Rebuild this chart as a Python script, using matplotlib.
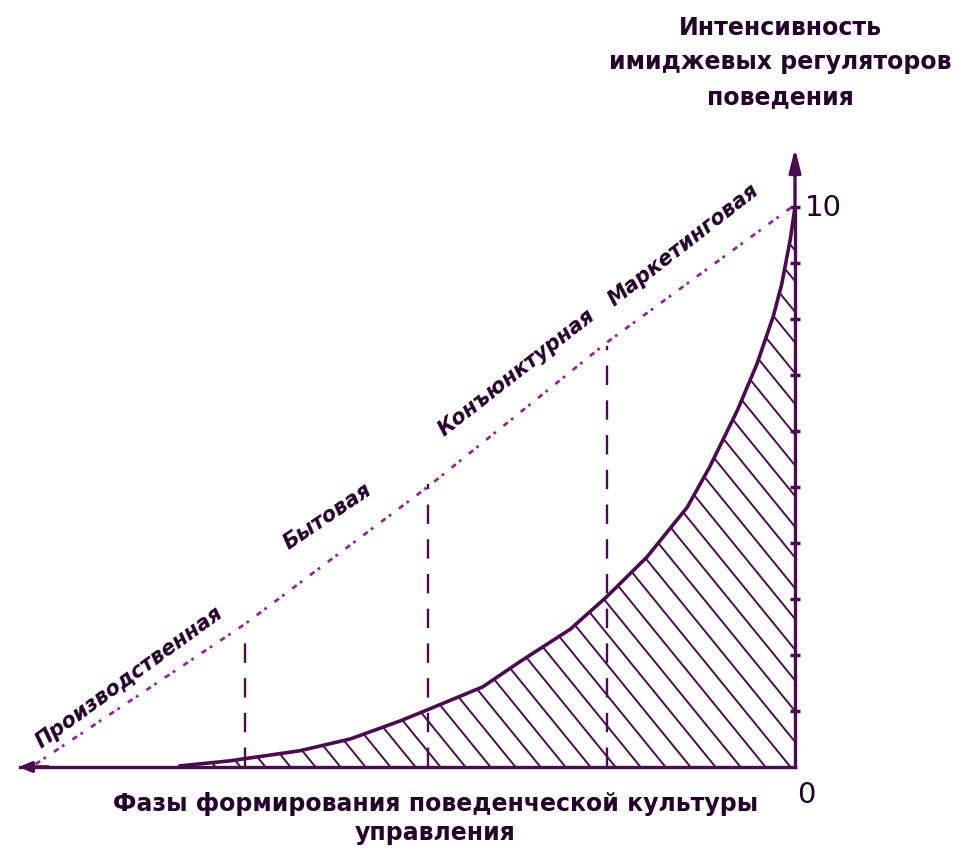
import numpy as np
import matplotlib.pyplot as plt
from matplotlib.patches import Polygon

plt.rcParams['font.family'] = ['DejaVu Sans']
plt.rcParams['lines.scale_dashes'] = False

# data (x: phase axis 0..10, y: intensity 0..10)
curve_x = [2.06, 2.71, 3.61, 4.26, 4.90, 5.29, 5.97, 6.45, 7.10, 7.57,
           8.09, 8.61, 8.90, 9.26, 9.51, 9.72, 9.83, 9.94, 10.0]
curve_y = [0.02, 0.11, 0.29, 0.50, 0.82, 1.04, 1.43, 1.88, 2.46, 3.04,
           3.75, 4.64, 5.36, 6.38, 7.20, 8.05, 8.63, 9.43, 10.0]
trend_x = [0.2, 2.9, 5.26, 7.59, 9.96]
trend_y = [0.05, 2.55, 5.0, 7.6, 10.0]
bounds_x = [2.9, 5.26, 7.57]
bounds_top = [2.46, 5.05, 7.52]
phases = ['Производственная', 'Бытовая', 'Конъюнктурная', 'Маркетинговая']
y_ticks = list(range(1, 11))

y_title = 'Интенсивность\nимиджевых регуляторов\nповедения'
x_title = 'Фазы формирования поведенческой культуры\nуправления'

line_c = '#4a0c4e'
dot_c = '#8a2a8e'
text_c = '#24002a'

fig = plt.figure(figsize=(9.75, 8.53), dpi=100)
ax = fig.add_axes([20 / 975, 85 / 853, 775 / 975, 560 / 853])
ax.set_xlim(0, 10)
ax.set_ylim(0, 10)

# axes: bottom line and right (vertical) axis
for s in ['top', 'left']:
    ax.spines[s].set_visible(False)
for s in ['bottom', 'right']:
    ax.spines[s].set_linewidth(2.4)
    ax.spines[s].set_color(line_c)
ax.set_xticks([])
ax.yaxis.tick_right()
ax.set_yticks(y_ticks)
ax.set_yticklabels([])
ax.tick_params(axis='y', direction='inout', length=7, width=2.5, colors=line_c)

# arrow on top of the vertical axis
ax.annotate('', xy=(10, 11.1), xytext=(10, 9.9), annotation_clip=False,
            arrowprops=dict(arrowstyle='-|>,head_length=1.4,head_width=0.35',
                            color=line_c, lw=2.4))
# small arrow at the left end of the horizontal axis
ax.annotate('', xy=(-0.05, 0), xytext=(0.4, 0), annotation_clip=False,
            arrowprops=dict(arrowstyle='-|>,head_length=0.7,head_width=0.3',
                            color=line_c, lw=2.6))

# hatched area under the curve
poly = Polygon(list(zip(curve_x, curve_y)) + [(10, 0), (curve_x[0], 0)],
               closed=True, fill=False, edgecolor='none')
ax.add_patch(poly)
slope = -1.7
for x0 in np.arange(2.2, 10 + 10 / 1.7, 0.3226):
    hx = np.array([x0 - 10 / 1.7, x0])
    ln, = ax.plot(hx, slope * (hx - x0), color=line_c, lw=1.4)
    ln.set_clip_path(poly)

ax.plot(curve_x, curve_y, color=line_c, lw=2.6, solid_capstyle='round',
        solid_joinstyle='round')

# dotted trend line
ax.plot(trend_x, trend_y, color=dot_c, lw=2.0, dashes=(4, 3, 2, 7))

# phase boundaries
for bx, bt in zip(bounds_x, bounds_top):
    ax.plot([bx, bx], [0, bt], color=line_c, lw=1.7, dashes=(14, 11))

# phase labels along the trend line
label_pos = [(0.3, 0.29, 36), (3.5, 3.84, 34), (5.5, 5.86, 38), (7.7, 8.18, 38)]
for name, (lx, ly, rot) in zip(phases, label_pos):
    ax.text(lx, ly, name, rotation=rot, rotation_mode='anchor', ha='left', va='bottom',
            fontsize=15, fontweight='bold', style='italic', color=text_c, clip_on=False)

# axis texts
ax.text(10.37, 10.0, '10', fontsize=21, color=text_c, ha='center', va='center', clip_on=False)
ax.text(10.14, -0.48, '0', fontsize=21, color=text_c, ha='center', va='center', clip_on=False)
ax.text(9.81, 12.6, y_title, fontsize=17, fontweight='bold', color=text_c,
        ha='center', va='center', linespacing=1.55, clip_on=False)
ax.text(5.36, -0.9, x_title, fontsize=17, fontweight='bold', color=text_c,
        ha='center', va='center', linespacing=1.3, clip_on=False)

fig.savefig('out.png', dpi=100)
